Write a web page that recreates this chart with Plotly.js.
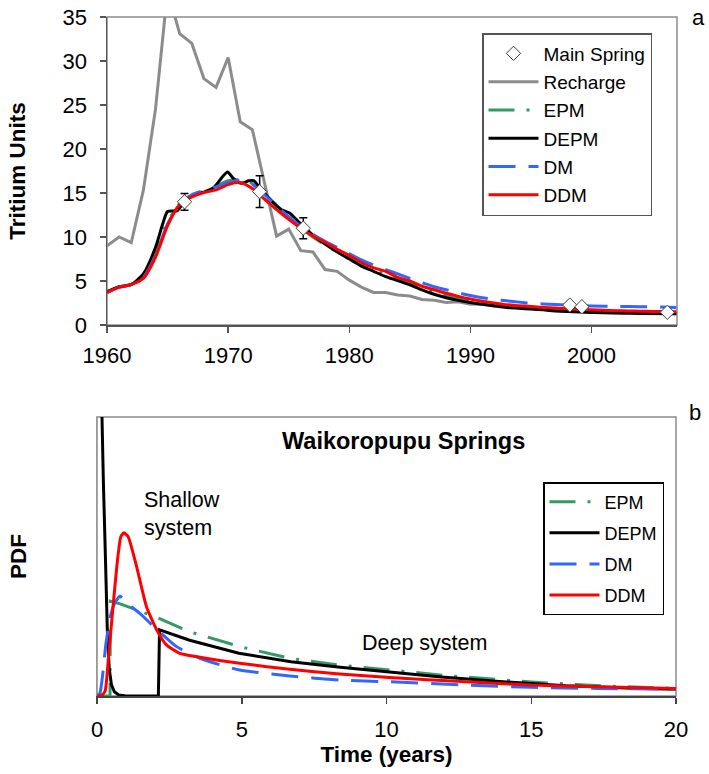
<!DOCTYPE html>
<html>
<head>
<meta charset="utf-8">
<script src="https://cdn.plot.ly/plotly-3.0.1.min.js"></script>
<style>html,body{margin:0;padding:0;background:#fff}#chart{width:709px;height:774px}</style>
</head>
<body>
<div id="chart"></div>
<script>
// ---------- Panel a : tritium time series ----------
const springYears = [1966.4, 1972.6, 1976.2, 1998.2, 1999.2, 2006.25];
const springTU    = [14.0, 15.15, 11.0, 2.27, 2.08, 1.44];
const springErr   = [0.95, 1.8, 1.2, 0, 0, 0];

const rechargeYears = [1960,1961,1962,1963,1964,1965,1966,1967,1968,1969,1970,1971,1972,1973,1974,1975,1976,1977,1978,1979,1980,1981,1982,1983,1984,1985,1986,1987,1988,1989,1990,1991,1992,1993,1994,1995,1996,1997,1998,1999,2000,2001,2002,2003,2004,2005,2006,2007];
const rechargeTU    = [9.0,10.0,9.35,15.3,24.5,38.0,33.1,32.0,28.0,27.0,30.4,23.1,22.2,16.0,10.1,10.9,8.45,8.3,6.3,6.1,5.1,4.3,3.7,3.7,3.4,3.3,2.9,2.8,2.55,2.65,2.35,2.4,2.2,2.2,2.1,2.0,1.9,1.8,1.75,1.7,1.6,1.55,1.5,1.45,1.4,1.38,1.35,1.3];

const epmYears = [1960,1961,1962,1963,1964,1965,1966,1967,1968,1969,1970,1971,1972,1973,1974,1975,1976,1977,1978,1979,1980,1981,1982,1983,1984,1985,1986,1987,1988,1989,1990,1991,1992,1993,1994,1995,1996,1997,1998,1999,2000,2002,2004,2007];
const epmTU    = [3.75,4.3,4.6,5.6,8.3,11.8,13.6,14.6,15.2,15.8,16.4,16.5,16.1,14.9,13.6,12.3,11.1,10.0,9.1,8.3,7.6,6.9,6.3,5.7,5.2,4.7,4.2,3.75,3.35,3.0,2.7,2.45,2.25,2.1,1.95,1.85,1.75,1.65,1.58,1.52,1.47,1.4,1.35,1.28];

const depmYears = [1960,1961,1962,1963,1964,1964.6,1965,1965.8,1966.5,1967,1968,1968.8,1969.5,1969.95,1970.4,1971.1,1971.7,1972.1,1972.6,1973.5,1974.4,1975.1,1975.9,1977,1978,1979,1980,1981,1982,1983,1984,1985,1986,1987,1988,1989,1990,1991,1992,1993,1994,1995,1996,1997,1998,1999,2000,2002,2004,2007];
const depmTU    = [3.8,4.35,4.6,5.8,8.8,11.5,12.9,13.0,14.3,14.7,15.1,15.6,16.8,17.4,16.7,16.1,16.4,16.4,15.6,14.2,13.1,12.7,11.6,10.2,9.2,8.3,7.5,6.7,6.1,5.5,5.05,4.55,4.0,3.5,3.1,2.8,2.55,2.35,2.15,2.0,1.9,1.82,1.72,1.6,1.52,1.47,1.43,1.37,1.32,1.28];

const dmYears = [1960,1961,1962,1963,1964,1965,1966,1967,1968,1969,1970,1971,1972,1973,1974,1975,1976,1977,1978,1979,1980,1981,1982,1983,1984,1985,1986,1987,1988,1989,1990,1991,1992,1993,1994,1995,1996,1997,1998,1999,2000,2002,2004,2007];
const dmTU    = [3.7,4.3,4.6,5.4,7.9,11.5,13.8,14.8,15.3,15.7,16.2,16.45,16.0,14.8,13.5,12.3,11.2,10.3,9.5,8.8,8.1,7.4,6.8,6.3,5.8,5.3,4.8,4.35,4.0,3.65,3.35,3.1,2.9,2.75,2.6,2.48,2.4,2.32,2.27,2.22,2.17,2.12,2.08,2.0];

const ddmYears = [1960,1961,1962,1963,1964,1965,1966,1967,1968,1969,1970,1971,1972,1973,1974,1975,1976,1977,1978,1979,1980,1981,1982,1983,1984,1985,1986,1987,1988,1989,1990,1991,1992,1993,1994,1995,1996,1997,1998,1999,2000,2001,2002,2003,2004,2005,2006,2007];
const ddmTU    = [3.67,4.3,4.6,5.3,7.7,11.3,13.7,14.55,15.05,15.35,15.95,16.2,15.5,14.3,13.1,12.0,11.0,10.1,9.4,8.6,7.9,7.1,6.5,6.1,5.4,5.0,4.4,4.0,3.6,3.25,2.95,2.7,2.5,2.3,2.2,2.1,2.0,1.92,1.85,1.8,1.73,1.68,1.63,1.6,1.57,1.54,1.52,1.5];

const yearTicks = [1960, 1970, 1980, 1990, 2000];
const tuTicks   = [0, 5, 10, 15, 20, 25, 30, 35];

// ---------- Panel b : transit time distributions ----------
const epmT   = [0, 0.45, 0.46, 0.8, 2.06, 3.21, 4.93, 6.66, 8.38, 10.1, 12.2, 15, 17.5, 20];
const epmPDF = [0, 0, 0.34, 0.33, 0.282, 0.23, 0.177, 0.135, 0.111, 0.093, 0.072, 0.05, 0.036, 0.027];

const depmT   = [0.12, 0.16, 0.22, 0.29, 0.355, 0.42, 0.5, 0.6, 0.75, 1.0, 2.12, 2.16, 3.2, 4.9, 6.7, 8.4, 10.1, 11.9, 13.9, 16.2, 18.5, 20];
const depmPDF = [1.25, 1.0, 0.77, 0.5, 0.24, 0.1, 0.04, 0.015, 0.004, 0, 0, 0.237, 0.20, 0.153, 0.123, 0.103, 0.087, 0.068, 0.052, 0.037, 0.028, 0.024];

const dmT   = [0, 0.1, 0.2, 0.3, 0.45, 0.6, 0.79, 1.02, 1.48, 2.06, 2.75, 3.55, 4.93, 6.66, 8.38, 10.1, 12.75, 15, 17.3, 20];
const dmPDF = [0, 0.01, 0.08, 0.18, 0.28, 0.33, 0.358, 0.334, 0.296, 0.239, 0.177, 0.135, 0.093, 0.072, 0.057, 0.051, 0.039, 0.031, 0.027, 0.024];

const ddmT   = [0, 0.15, 0.28, 0.39, 0.51, 0.68, 0.82, 0.93, 1.08, 1.37, 1.71, 2.06, 2.4, 2.86, 3.55, 4.93, 6.66, 8.38, 10.1, 12.75, 15, 17.3, 20];
const ddmPDF = [0, 0.002, 0.018, 0.13, 0.27, 0.46, 0.57, 0.585, 0.57, 0.463, 0.32, 0.237, 0.183, 0.153, 0.139, 0.117, 0.096, 0.079, 0.066, 0.051, 0.039, 0.033, 0.027];

const timeTicks = [0, 5, 10, 15, 20];

// ---------- styles ----------
const FONT = 'Liberation Sans, Arial, Helvetica, sans-serif';
const GREEN = '#339966', BLUE = '#3366FF', RED = '#FF0000', GRAY = '#8C8C8C';
const DASHDOT = '26px,12px,3px,12px';
const DASH = '27px,13px';

const traces = [
  {x: rechargeYears, y: rechargeTU, type: 'scatter', mode: 'lines', name: 'Recharge',
   line: {color: GRAY, width: 3}, legend: 'legend', legendgroup: 'a2', legendrank: 2, xaxis: 'x', yaxis: 'y'},
  {x: epmYears, y: epmTU, type: 'scatter', mode: 'lines', name: 'EPM',
   line: {color: GREEN, width: 3, dash: DASHDOT, shape: 'spline', smoothing: 0.6}, legend: 'legend', legendgroup: 'a3', legendrank: 3, xaxis: 'x', yaxis: 'y'},
  {x: depmYears, y: depmTU, type: 'scatter', mode: 'lines', name: 'DEPM',
   line: {color: '#000000', width: 3, shape: 'spline', smoothing: 0.6}, legend: 'legend', legendgroup: 'a4', legendrank: 4, xaxis: 'x', yaxis: 'y'},
  {x: dmYears, y: dmTU, type: 'scatter', mode: 'lines', name: 'DM',
   line: {color: BLUE, width: 3, dash: DASH, shape: 'spline', smoothing: 0.6}, legend: 'legend', legendgroup: 'a5', legendrank: 5, xaxis: 'x', yaxis: 'y'},
  {x: ddmYears, y: ddmTU, type: 'scatter', mode: 'lines', name: 'DDM',
   line: {color: RED, width: 3, shape: 'spline', smoothing: 0.6}, legend: 'legend', legendgroup: 'a6', legendrank: 6, xaxis: 'x', yaxis: 'y'},
  {x: springYears, y: springTU, type: 'scatter', mode: 'markers', name: 'Main Spring',
   marker: {symbol: 'diamond', size: 11, color: '#FFFFFF', line: {color: '#404040', width: 1}},
   error_y: {type: 'data', array: springErr, visible: true, color: '#000000', thickness: 1.5, width: 4},
   legend: 'legend', legendgroup: 'a1', legendrank: 1, xaxis: 'x', yaxis: 'y'},

  {x: epmT, y: epmPDF, type: 'scatter', mode: 'lines', name: 'EPM',
   line: {color: GREEN, width: 3, dash: DASHDOT}, legend: 'legend2', legendgroup: 'b1', legendrank: 1, xaxis: 'x2', yaxis: 'y2'},
  {x: depmT, y: depmPDF, type: 'scatter', mode: 'lines', name: 'DEPM',
   line: {color: '#000000', width: 3}, legend: 'legend2', legendgroup: 'b2', legendrank: 2, xaxis: 'x2', yaxis: 'y2'},
  {x: dmT, y: dmPDF, type: 'scatter', mode: 'lines', name: 'DM',
   line: {color: BLUE, width: 3, dash: DASH, shape: 'spline', smoothing: 0.5}, legend: 'legend2', legendgroup: 'b3', legendrank: 3, xaxis: 'x2', yaxis: 'y2'},
  {x: ddmT, y: ddmPDF, type: 'scatter', mode: 'lines', name: 'DDM',
   line: {color: RED, width: 3, shape: 'spline', smoothing: 0.5}, legend: 'legend2', legendgroup: 'b4', legendrank: 4, xaxis: 'x2', yaxis: 'y2'}
];

const ML = 90, MR = 30, MT = 17, MB = 78, W = 709, H = 774;
const PW = W - ML - MR, PH = H - MT - MB;
const px = v => (v - ML) / PW;           // pixel -> paper x
const py = v => (H - MB - v) / PH;       // pixel -> paper y

const axisCommon = {showgrid: false, zeroline: false, showline: true, linewidth: 1.5,
  ticks: 'outside', tickwidth: 1.5, ticklen: 6, tickfont: {size: 22, family: FONT, color: '#000'}};

const layout = {
  width: W, height: H,
  margin: {l: ML, r: MR, t: MT, b: MB, pad: 0},
  paper_bgcolor: '#FFFFFF', plot_bgcolor: '#FFFFFF',
  font: {family: FONT, size: 21, color: '#000'},
  showlegend: true,
  xaxis: Object.assign({}, axisCommon, {domain: [px(107), px(677)], range: [1960, 2007.05],
    tickmode: 'array', tickvals: yearTicks, linecolor: '#555', tickcolor: '#555', anchor: 'y', ticklabelstandoff: 4}),
  yaxis: Object.assign({}, axisCommon, {domain: [py(325), py(17)], range: [0, 35],
    tickmode: 'array', tickvals: tuTicks, linecolor: '#555', tickcolor: '#555', anchor: 'x', ticklabelstandoff: 8,
    title: {text: 'Tritium Units', font: {size: 22.5, family: FONT, weight: 'bold', color: '#000'}, standoff: 30}}),
  xaxis2: Object.assign({}, axisCommon, {domain: [px(97), px(676)], range: [0, 20],
    tickmode: 'array', tickvals: timeTicks, linecolor: '#444', tickcolor: '#444', anchor: 'y2', ticklabelstandoff: 7,
    title: {text: 'Time (years)', font: {size: 22.5, family: FONT, weight: 'bold', color: '#000'}, standoff: 2}}),
  yaxis2: {domain: [py(696), py(417)], range: [0, 1], anchor: 'x2', showgrid: false, zeroline: false,
    showline: true, linecolor: '#999', linewidth: 1.5, ticks: '', showticklabels: false,
    title: {text: 'PDF', font: {size: 22.5, family: FONT, weight: 'bold', color: '#000'}, standoff: 62}},
  legend: {x: px(482), y: py(33), xanchor: 'left', yanchor: 'top', bgcolor: '#FFFFFF',
    bordercolor: '#555', borderwidth: 1.5, font: {size: 19, family: FONT, color: '#000'},
    traceorder: 'grouped', tracegroupgap: 0.6, itemwidth: 50, itemsizing: 'trace'},
  legend2: {x: px(543), y: py(482), xanchor: 'left', yanchor: 'top', bgcolor: '#FFFFFF',
    bordercolor: '#000', borderwidth: 1.5, font: {size: 18, family: FONT, color: '#000'},
    traceorder: 'grouped', tracegroupgap: 4.7, itemwidth: 50},
  shapes: [
    {type: 'rect', xref: 'x domain', yref: 'y domain', x0: 0, x1: 1, y0: 0, y1: 1, line: {color: '#8C8C8C', width: 1.5}, layer: 'below'},
    {type: 'rect', xref: 'x2 domain', yref: 'y2 domain', x0: 0, x1: 1, y0: 0, y1: 1, line: {color: '#8C8C8C', width: 1.5}, layer: 'below'}
  ],
  annotations: [
    {text: 'a', xref: 'paper', yref: 'paper', x: px(698), y: py(17), xanchor: 'center', yanchor: 'middle', showarrow: false, font: {size: 22}},
    {text: 'b', xref: 'paper', yref: 'paper', x: px(695), y: py(413), xanchor: 'center', yanchor: 'middle', showarrow: false, font: {size: 22}},
    {text: '<b>Waikoropupu Springs</b>', xref: 'paper', yref: 'paper', x: px(403), y: py(441), xanchor: 'center', yanchor: 'middle', showarrow: false, font: {size: 23.5}},
    {text: 'Shallow<br>system', xref: 'paper', yref: 'paper', x: px(142), y: py(514), xanchor: 'left', yanchor: 'middle', align: 'left', showarrow: false, font: {size: 21.5}},
    {text: 'Deep system', xref: 'paper', yref: 'paper', x: px(360), y: py(643), xanchor: 'left', yanchor: 'middle', showarrow: false, font: {size: 21.5}}
  ]
};

Plotly.newPlot('chart', traces, layout, {displayModeBar: false, staticPlot: true});
</script>
</body>
</html>
